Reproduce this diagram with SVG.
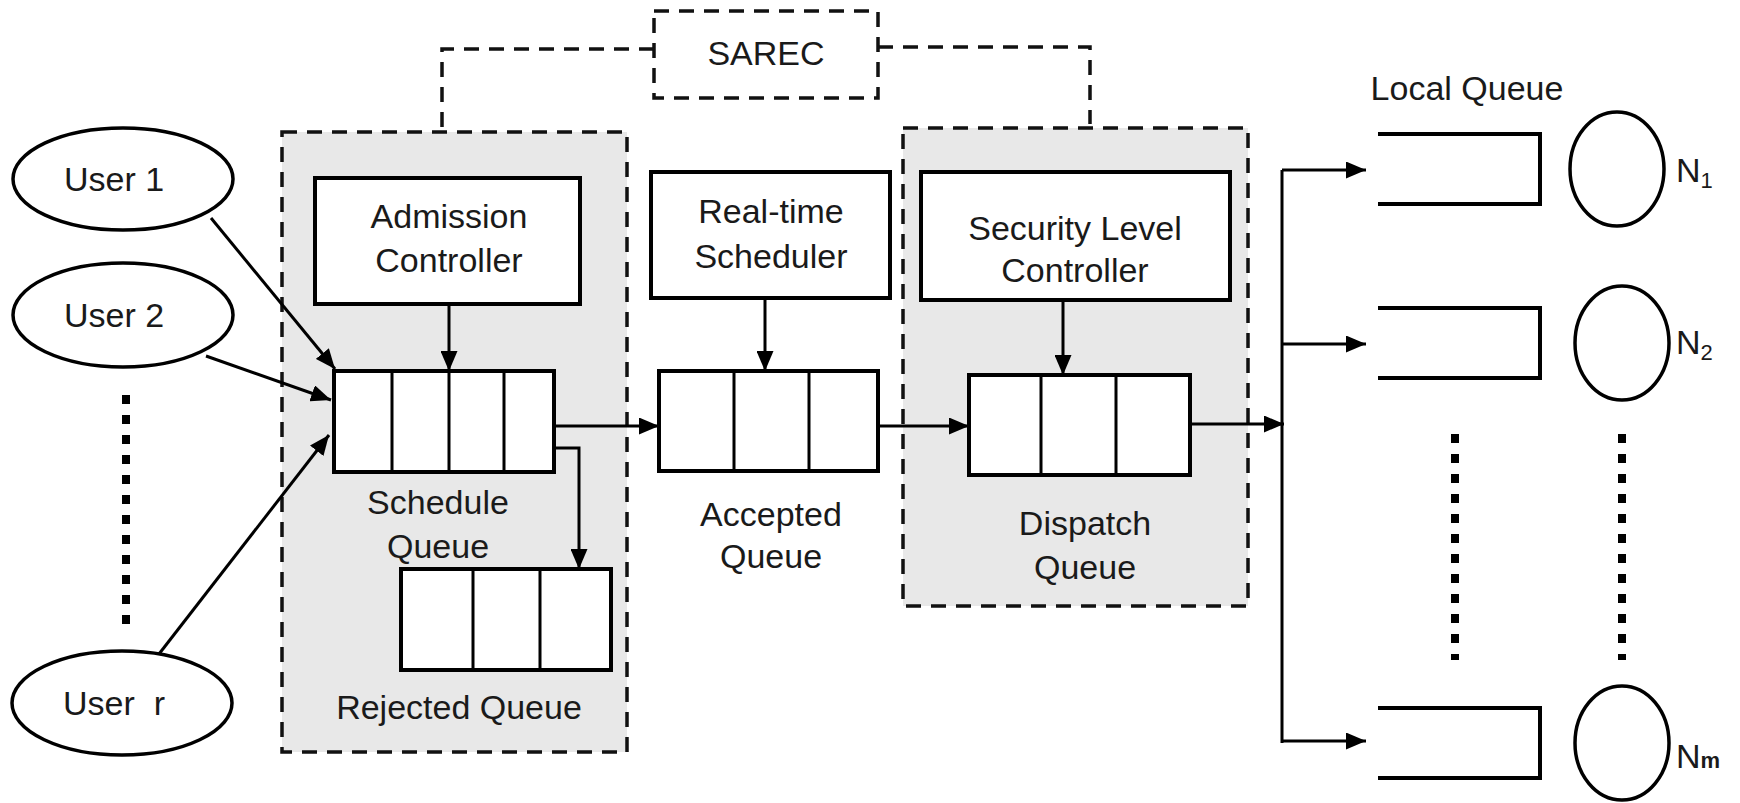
<svg xmlns="http://www.w3.org/2000/svg" width="1740" height="803" viewBox="0 0 1740 803">
<defs>
<marker id="ah" markerUnits="userSpaceOnUse" markerWidth="20" markerHeight="17" viewBox="0 0 20 17" refX="20" refY="8.5" orient="auto">
<path d="M0,0 L20,8.5 L0,17 z" fill="#000"/>
</marker>
</defs>
<style>
text{font-family:"Liberation Sans",Arial,sans-serif;font-size:34px;fill:#1a1a1a;text-anchor:middle}
.box{fill:#fff;stroke:#000;stroke-width:4}
.cell{fill:none;stroke:#000;stroke-width:3}
.grp{fill:#e8e8e8;stroke:#111;stroke-width:3.5;stroke-dasharray:15 10}
.dash{fill:none;stroke:#111;stroke-width:3.5;stroke-dasharray:15 10}
.usr{fill:#fff;stroke:#000;stroke-width:3.5}
.lq{fill:none;stroke:#000;stroke-width:4}
.dots{fill:none;stroke:#000;stroke-width:8;stroke-dasharray:9 11}
.ar{fill:none;stroke:#000;stroke-width:3;marker-end:url(#ah)}
.ln{fill:none;stroke:#000;stroke-width:3}
</style>
<rect width="1740" height="803" fill="#fff"/>

<g id="group-admission">
<rect class="grp" x="282" y="132" width="345" height="620"/>
</g>
<g id="group-dispatch">
<rect class="grp" x="903" y="128" width="345" height="478"/>
</g>

<g id="sarec">
<rect class="dash" x="654" y="11" width="224" height="87" fill="#fff"/>
<text x="766" y="65">SAREC</text>
</g>

<g id="user1">
<ellipse class="usr" cx="123" cy="179" rx="110" ry="51"/>
<text x="114" y="191">User 1</text>
</g>
<g id="user2">
<ellipse class="usr" cx="123" cy="315" rx="110" ry="52"/>
<text x="114" y="327">User 2</text>
</g>
<g id="userr">
<ellipse class="usr" cx="122" cy="703" rx="110" ry="52"/>
<text x="114" y="715" xml:space="preserve">User  r</text>
</g>
<g id="users-ellipsis">
<line class="dots" x1="126" y1="395" x2="126" y2="625"/>
</g>

<g id="admission-controller">
<rect class="box" x="315" y="178" width="265" height="126"/>
<text x="449" y="228">Admission</text>
<text x="449" y="272">Controller</text>
</g>
<g id="realtime-scheduler">
<rect class="box" x="651" y="172" width="239" height="126"/>
<text x="771" y="223">Real-time</text>
<text x="771" y="268">Scheduler</text>
</g>
<g id="security-level-controller">
<rect class="box" x="921" y="172" width="309" height="128"/>
<text x="1075" y="240">Security Level</text>
<text x="1075" y="282">Controller</text>
</g>

<g id="schedule-queue">
<rect class="box" x="334" y="371" width="220" height="101"/>
<path class="cell" d="M392,371V472M449,371V472M504,371V472"/>
<text x="438" y="514">Schedule</text>
<text x="438" y="558">Queue</text>
</g>
<g id="rejected-queue">
<rect class="box" x="401" y="569" width="210" height="101"/>
<path class="cell" d="M473,569V670M540,569V670"/>
<text x="459" y="719">Rejected Queue</text>
</g>
<g id="accepted-queue">
<rect class="box" x="659" y="371" width="219" height="100"/>
<path class="cell" d="M734,371V471M809,371V471"/>
<text x="771" y="526">Accepted</text>
<text x="771" y="568">Queue</text>
</g>
<g id="dispatch-queue">
<rect class="box" x="969" y="375" width="221" height="100"/>
<path class="cell" d="M1041,375V475M1116,375V475"/>
<text x="1085" y="535">Dispatch</text>
<text x="1085" y="579">Queue</text>
</g>

<g id="local-queues">
<text x="1467" y="100">Local Queue</text>
<path class="lq" d="M1378,134H1540V204H1378"/>
<path class="lq" d="M1378,308H1540V378H1378"/>
<path class="lq" d="M1378,708H1540V778H1378"/>
<line class="dots" x1="1455" y1="434" x2="1455" y2="660"/>
</g>
<g id="node-n1">
<ellipse class="usr" cx="1617" cy="169" rx="47" ry="57"/>
<text x="1676" y="182" style="text-anchor:start">N<tspan font-size="22" dy="6">1</tspan></text>
</g>
<g id="node-n2">
<ellipse class="usr" cx="1622" cy="343" rx="47" ry="57"/>
<text x="1676" y="354" style="text-anchor:start">N<tspan font-size="22" dy="6">2</tspan></text>
</g>
<g id="node-nm">
<ellipse class="usr" cx="1622" cy="743" rx="47" ry="57"/>
<text x="1676" y="768" style="text-anchor:start">N<tspan font-size="22" font-weight="bold">m</tspan></text>
</g>
<g id="nodes-ellipsis">
<line class="dots" x1="1622" y1="434" x2="1622" y2="660"/>
</g>

<g id="connectors">
<path class="dash" d="M654,49H442V130"/>
<path class="dash" d="M878,47H1090V124"/>
<line class="ar" x1="211" y1="218" x2="335" y2="369"/>
<line class="ar" x1="206" y1="356" x2="331" y2="400"/>
<line class="ar" x1="159" y1="654" x2="329" y2="435"/>
<line class="ar" x1="449" y1="304" x2="449" y2="371"/>
<line class="ar" x1="765" y1="298" x2="765" y2="371"/>
<line class="ar" x1="1063" y1="300" x2="1063" y2="375"/>
<line class="ar" x1="554" y1="426" x2="659" y2="426"/>
<path class="ar" d="M554,448H579V569"/>
<line class="ar" x1="878" y1="426" x2="969" y2="426"/>
<line class="ar" x1="1190" y1="424" x2="1284" y2="424"/>
<line class="ln" x1="1282" y1="170" x2="1282" y2="743"/>
<path class="ar" d="M1282,170H1366"/>
<path class="ar" d="M1282,344H1366"/>
<path class="ar" d="M1281,741H1366"/>
</g>
</svg>
